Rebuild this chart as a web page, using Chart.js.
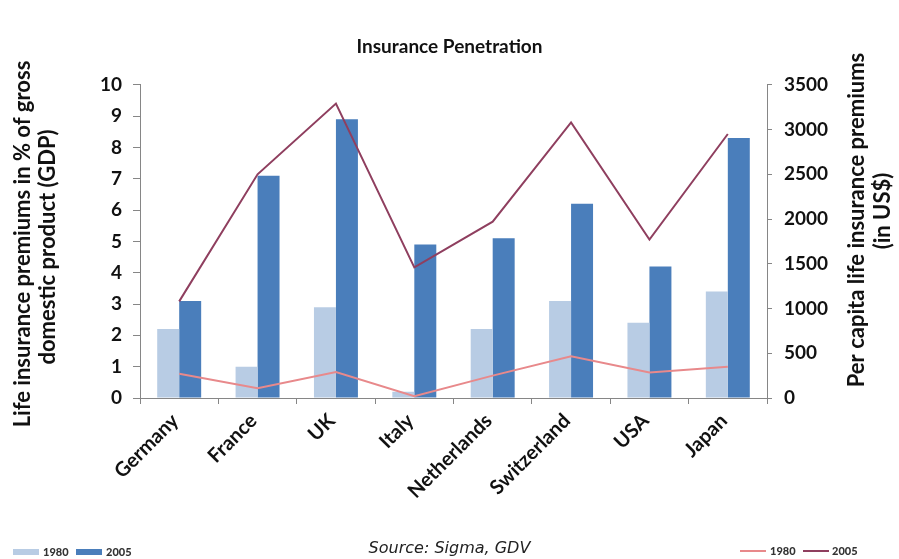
<!DOCTYPE html>
<html>
<head>
<meta charset="utf-8">
<title>Insurance Penetration</title>
<script src="https://cdn.jsdelivr.net/npm/chart.js@4/dist/chart.umd.min.js"></script>
<style>
  html, body { margin: 0; padding: 0; background: #fff; }
  #wrap { position: relative; width: 899px; height: 559px; overflow: hidden; }
  #chart { position: absolute; left: 0; top: 0; }
  .lg { position: absolute; font-family: Lato, sans-serif; font-weight: 900; font-size: 11px; color: #333; line-height: 12px; }
  .sw { position: absolute; height: 6px; }
  .ln { position: absolute; height: 2px; }
  #source { position: absolute; left: 0; width: 899px; top: 538px; text-align: center;
            font: oblique 16px "DejaVu Sans", sans-serif; color: #222; }
</style>
</head>
<body>
<div id="wrap">
  <canvas id="chart" width="899" height="559"></canvas>

  <div class="sw" style="left:13px;top:549px;width:26px;background:#b8cce4"></div>
  <div class="lg" style="left:43px;top:546px">1980</div>
  <div class="sw" style="left:76px;top:549px;width:26px;background:#4a7ebb"></div>
  <div class="lg" style="left:106px;top:546px">2005</div>

  <div id="source">Source: Sigma, GDV</div>

  <div class="ln" style="left:740px;top:550px;width:26px;background:#e8898b"></div>
  <div class="lg" style="left:770px;top:545px">1980</div>
  <div class="ln" style="left:803px;top:550px;width:26px;background:#8f3f5f"></div>
  <div class="lg" style="left:832px;top:545px">2005</div>
</div>

<script>
// Countries on the category axis
const countries = ['Germany', 'France', 'UK', 'Italy', 'Netherlands', 'Switzerland', 'USA', 'Japan'];

// Life insurance premiums in % of GDP (left axis, bars)
const gdpShare1980 = [2.2, 1.0, 2.9, 0.2, 2.2, 3.1, 2.4, 3.4];
const gdpShare2005 = [3.1, 7.1, 8.9, 4.9, 5.1, 6.2, 4.2, 8.3];

// Per capita life insurance premiums in US$ (right axis, lines)
const perCapita1980 = [270, 110, 290, 20, 250, 465, 285, 350];
const perCapita2005 = [1080, 2500, 3290, 1460, 1970, 3080, 1770, 2950];

// Axis ranges and tick steps
const leftAxisMax = 10, leftAxisStep = 1;
const rightAxisMax = 3500, rightAxisStep = 500;

const leftTitle = ['Life insurance premiums in % of gross', 'domestic product (GDP)'];
const rightTitle = ['Per capita life insurance premiums', '(in US$)'];

const axisGrey = '#868686';
const tickFont = { family: 'Lato', weight: 'bold', size: 19 };

// Draws the two rotated axis titles (both read bottom to top)
const axisTitles = {
  id: 'axisTitles',
  afterDraw(chart) {
    const { ctx } = chart;
    ctx.save();
    ctx.fillStyle = '#111';
    ctx.font = 'bold 22px Lato, sans-serif';
    ctx.textAlign = 'center';
    ctx.textBaseline = 'middle';
    const drawLine = (text, x, y) => {
      ctx.save();
      ctx.translate(x, y);
      ctx.rotate(-Math.PI / 2);
      ctx.fillText(text, 0, 0);
      ctx.restore();
    };
    drawLine(leftTitle[0], 23, 244);
    drawLine(leftTitle[1], 48, 247);
    drawLine(rightTitle[0], 857, 220);
    drawLine(rightTitle[1], 883, 211);
    ctx.restore();
  }
};

new Chart(document.getElementById('chart'), {
  data: {
    labels: countries,
    datasets: [
      { type: 'line', label: '1980', data: perCapita1980, yAxisID: 'y2',
        borderColor: '#e8898b', borderWidth: 2, pointRadius: 0, tension: 0, order: 0 },
      { type: 'line', label: '2005', data: perCapita2005, yAxisID: 'y2',
        borderColor: '#8f3f5f', borderWidth: 2, pointRadius: 0, tension: 0, order: 0 },
      { type: 'bar', label: '1980', data: gdpShare1980, yAxisID: 'y',
        backgroundColor: '#b8cce4', order: 1 },
      { type: 'bar', label: '2005', data: gdpShare2005, yAxisID: 'y',
        backgroundColor: '#4a7ebb', order: 1 }
    ]
  },
  options: {
    responsive: false,
    animation: false,
    layout: { padding: 0 },
    datasets: { bar: { categoryPercentage: 0.561, barPercentage: 1.0 } },
    plugins: {
      legend: { display: false },
      tooltip: { enabled: false },
      title: {
        display: true,
        text: 'Insurance Penetration',
        color: '#111',
        font: { family: 'Lato', weight: 'bold', size: 19 },
        padding: { top: 35, bottom: 27 }
      }
    },
    scales: {
      x: {
        grid: { drawOnChartArea: false, drawTicks: true, tickLength: 6, color: axisGrey, offset: true },
        border: { color: axisGrey },
        ticks: { color: '#111', font: { family: 'Lato', weight: 'bold', size: 20 },
                 minRotation: 45, maxRotation: 45, autoSkip: false, padding: 5, labelOffset: -4 },
        afterFit(scale) { scale.height = 161; }
      },
      y: {
        position: 'left',
        min: 0, max: leftAxisMax,
        grid: { drawOnChartArea: false, tickLength: 7, color: axisGrey },
        border: { color: axisGrey },
        ticks: { stepSize: leftAxisStep, color: '#111', font: tickFont, padding: 11 },
        afterFit(scale) { scale.width = 140; }
      },
      y2: {
        position: 'right',
        min: 0, max: rightAxisMax,
        grid: { drawOnChartArea: false, tickLength: 5, color: axisGrey },
        border: { color: axisGrey },
        ticks: { stepSize: rightAxisStep, color: '#111', font: tickFont, padding: 12,
                 callback: (v) => String(v) },
        afterFit(scale) { scale.width = 132; }
      }
    }
  },
  plugins: [axisTitles]
});
</script>
</body>
</html>
